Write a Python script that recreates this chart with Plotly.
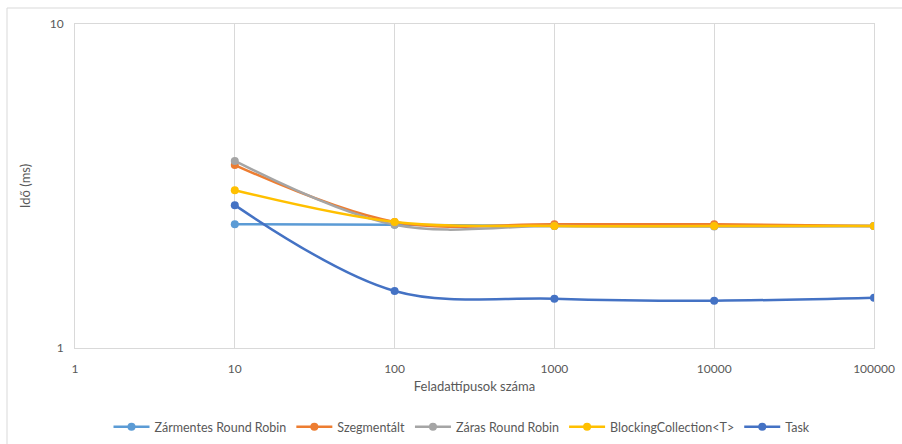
import plotly.graph_objects as go

# Number of task types (x) and measured run times in ms (y)
task_types = [10, 100, 1000, 10000, 100000]

series_names = [
    "Zármentes Round Robin",
    "Szegmentált",
    "Záras Round Robin",
    "BlockingCollection<T>",
    "Task",
]
lockfree_rr = [2.41, 2.40, 2.38, 2.38, 2.38]
segmented = [3.67, 2.45, 2.41, 2.41, 2.38]
locked_rr = [3.78, 2.40, 2.38, 2.37, 2.38]
blocking_collection = [3.07, 2.45, 2.38, 2.38, 2.38]
task = [2.76, 1.50, 1.42, 1.40, 1.43]

series_values = [lockfree_rr, segmented, locked_rr, blocking_collection, task]
series_colors = ["#5B9BD5", "#ED7D31", "#A5A5A5", "#FFC000", "#4472C4"]

x_tick_values = [1, 10, 100, 1000, 10000, 100000]
x_tick_labels = ["1", "10", "100", "1000", "10000", "100000"]
y_tick_values = [1, 10]
y_tick_labels = ["1", "10"]

FONT = "Lato, 'Open Sans', sans-serif"
GRID = "#D9D9D9"
TEXT = "#595959"

fig = go.Figure()
for name, vals, color in zip(series_names, series_values, series_colors):
    fig.add_trace(go.Scatter(
        x=task_types, y=vals, name=name,
        mode="lines+markers",
        line=dict(color=color, width=2.5, shape="spline", smoothing=1),
        marker=dict(color=color, size=8),
    ))

W, H = 902, 444
L, R, T, B = 75, 28, 24, 96
pw, ph = W - L - R, H - T - B

fig.update_layout(
    width=W, height=H,
    margin=dict(l=L, r=R, t=T, b=B, autoexpand=False),
    paper_bgcolor="white", plot_bgcolor="white",
    font=dict(family=FONT, size=12, color=TEXT),
    showlegend=True,
    legend=dict(
        orientation="h", x=462 / W, xanchor="center", xref="container",
        y=1 - 427 / H, yanchor="middle", yref="container",
        font=dict(size=12.5, color=TEXT),
        itemwidth=36, traceorder="normal",
    ),
    xaxis=dict(
        type="log", range=[0, 5], automargin=False,
        tickvals=x_tick_values, ticktext=x_tick_labels,
        showgrid=True, gridcolor=GRID, gridwidth=1,
        showline=True, linecolor=GRID, linewidth=1, mirror=True,
        ticks="", zeroline=False, ticklabelstandoff=10,
        tickfont=dict(size=12, color=TEXT),
        title=dict(text="Feladattípusok száma", font=dict(size=13, color=TEXT), standoff=6),
    ),
    yaxis=dict(
        type="log", range=[0, 1], automargin=False,
        tickvals=y_tick_values, ticktext=y_tick_labels,
        showgrid=True, gridcolor=GRID, gridwidth=1,
        showline=True, linecolor=GRID, linewidth=1, mirror=True,
        ticks="", zeroline=False, ticklabelstandoff=8,
        tickfont=dict(size=12, color=TEXT),
        title=dict(text="Idő (ms)", font=dict(size=13, color=TEXT), standoff=16),
    ),
)

# Outer chart frame
fig.add_shape(
    type="rect", xref="paper", yref="paper",
    x0=(7 - L) / pw, x1=(W + 10 - L) / pw,
    y0=(T + ph - (H + 10)) / ph, y1=(T + ph - 8) / ph,
    line=dict(color=GRID, width=1), fillcolor="rgba(0,0,0,0)", layer="below",
)

fig.write_html("out.html")
